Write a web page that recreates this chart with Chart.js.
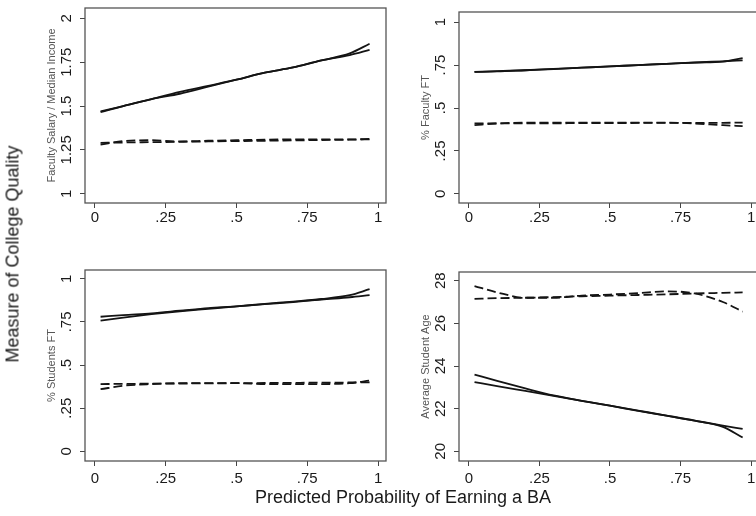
<!DOCTYPE html>
<html>
<head>
<meta charset="utf-8">
<script src="https://cdn.jsdelivr.net/npm/chart.js@4/dist/chart.umd.min.js"></script>
<style>
  html, body { margin: 0; padding: 0; background: #fff; overflow: hidden; }
  body { width: 756px; height: 516px; position: relative; font-family: "Liberation Sans", Arial, sans-serif; }
  canvas { position: absolute; }
  .ytitle { position: absolute; left: 13px; top: 254px; transform: translate(-50%, -50%) rotate(-90deg);
            white-space: nowrap; font-size: 18px; color: #1a1a1a; }
  .xtitle { position: absolute; left: 403px; top: 497px; transform: translate(-50%, -50%);
            white-space: nowrap; font-size: 18px; color: #1a1a1a; }
</style>
</head>
<body>
<canvas id="p1" width="400" height="245" style="left:0;top:0"></canvas>
<canvas id="p2" width="400" height="245" style="left:374px;top:0"></canvas>
<canvas id="p3" width="400" height="245" style="left:0;top:258px"></canvas>
<canvas id="p4" width="400" height="245" style="left:374px;top:258px"></canvas>
<div class="ytitle">Measure of College Quality</div>
<div class="xtitle">Predicted Probability of Earning a BA</div>
<script>
// predicted probability grid (x) shared by every panel
const xGrid = [0.02, 0.1, 0.2, 0.3, 0.4, 0.5, 0.6, 0.7, 0.8, 0.9, 0.97];
const xTicks = [0, 0.25, 0.5, 0.75, 1];
const xTickLabels = ['0', '.25', '.5', '.75', '1'];

// Faculty Salary / Median Income
const salarySolidLin = [1.47, 1.50, 1.54, 1.57, 1.61, 1.65, 1.69, 1.72, 1.76, 1.79, 1.82];
const salarySolidFit = [1.465, 1.50, 1.54, 1.58, 1.615, 1.65, 1.69, 1.72, 1.76, 1.80, 1.855];
const salaryDashLin = [1.29, 1.292, 1.294, 1.296, 1.298, 1.30, 1.302, 1.304, 1.306, 1.308, 1.31];
const salaryDashFit = [1.28, 1.30, 1.305, 1.298, 1.302, 1.305, 1.308, 1.31, 1.31, 1.31, 1.312];
const salaryTicks = [1, 1.25, 1.5, 1.75, 2];
const salaryTickLabels = ['1', '1.25', '1.5', '1.75', '2'];

// % Faculty FT
const facSolidLin = [0.71, 0.715, 0.72, 0.728, 0.735, 0.742, 0.75, 0.757, 0.765, 0.772, 0.777];
const facSolidFit = [0.71, 0.713, 0.72, 0.727, 0.735, 0.742, 0.75, 0.757, 0.764, 0.77, 0.79];
const facDashLin = [0.41, 0.41, 0.411, 0.411, 0.412, 0.412, 0.413, 0.413, 0.414, 0.414, 0.415];
const facDashFit = [0.40, 0.41, 0.415, 0.415, 0.415, 0.415, 0.415, 0.415, 0.41, 0.40, 0.395];

// % Students FT
const stuSolidLin = [0.78, 0.79, 0.80, 0.815, 0.83, 0.84, 0.853, 0.865, 0.88, 0.893, 0.905];
const stuSolidFit = [0.757, 0.775, 0.795, 0.812, 0.826, 0.84, 0.855, 0.868, 0.883, 0.905, 0.94];
const stuDashLin = [0.39, 0.391, 0.392, 0.393, 0.394, 0.395, 0.396, 0.397, 0.398, 0.399, 0.40];
const stuDashFit = [0.36, 0.38, 0.39, 0.395, 0.395, 0.395, 0.39, 0.39, 0.39, 0.395, 0.41];
const shareTicks = [0, 0.25, 0.5, 0.75, 1];
const shareTickLabels = ['0', '.25', '.5', '.75', '1'];

// Average Student Age
const ageSolidLin = [23.25, 23.06, 22.83, 22.6, 22.37, 22.14, 21.9, 21.67, 21.44, 21.21, 21.05];
const ageSolidFit = [23.6, 23.3, 22.95, 22.62, 22.37, 22.14, 21.91, 21.68, 21.44, 21.15, 20.65];
const ageDashLin = [27.15, 27.18, 27.2, 27.23, 27.27, 27.3, 27.33, 27.36, 27.4, 27.43, 27.45];
const ageDashFit = [27.75, 27.45, 27.2, 27.2, 27.3, 27.35, 27.42, 27.5, 27.4, 27.0, 26.55];
const ageTicks = [20, 22, 24, 26, 28];
const ageTickLabels = ['20', '22', '24', '26', '28'];

const ink = '#141414';

function series(values, dashed) {
    return {
        data: xGrid.map((x, i) => ({ x: x, y: values[i] })),
        borderColor: ink,
        borderWidth: 1.8,
        borderDash: dashed ? [9, 4] : [],
        pointRadius: 0,
        cubicInterpolationMode: 'monotone',
        fill: false
    };
}

// box around the plot region
const framePlugin = {
    id: 'frame',
    afterDraw(chart) {
        const a = chart.chartArea;
        const c = chart.ctx;
        c.save();
        c.strokeStyle = '#555';
        c.lineWidth = 1.3;
        c.strokeRect(a.left, a.top, a.right - a.left, a.bottom - a.top);
        c.restore();
    }
};

function makePanel(id, lines, title, yMin, yMax, yTicks, yLabels, rightPad, yPad, xPad) {
    new Chart(document.getElementById(id), {
        type: 'line',
        data: { datasets: lines },
        options: {
            responsive: false,
            animation: false,
            layout: { padding: { top: 5, right: rightPad, left: 0, bottom: 0 } },
            plugins: { legend: { display: false }, tooltip: { enabled: false } },
            scales: {
                x: {
                    type: 'linear',
                    min: -0.035,
                    max: 1.028,
                    afterBuildTicks: s => { s.ticks = xTicks.map(v => ({ value: v })); },
                    afterFit: s => { s.height = 42; },
                    grid: { drawOnChartArea: false, tickLength: 5, color: '#444' },
                    border: { display: false },
                    ticks: {
                        padding: xPad,
                        color: '#1a1a1a',
                        font: { family: 'Liberation Sans', size: 15 },
                        callback: (v) => xTickLabels[xTicks.indexOf(v)]
                    }
                },
                y: {
                    type: 'linear',
                    min: yMin,
                    max: yMax,
                    afterBuildTicks: s => { s.ticks = yTicks.map(v => ({ value: v })); },
                    afterFit: s => { s.width = 85; },
                    grid: { drawOnChartArea: false, tickLength: 5, color: '#444' },
                    border: { display: false },
                    title: {
                        display: true,
                        text: title,
                        color: '#555',
                        font: { family: 'Liberation Sans', size: 11 },
                        padding: { top: 45, bottom: 0 }
                    },
                    ticks: {
                        minRotation: 90,
                        maxRotation: 90,
                        crossAlign: 'center',
                        padding: yPad,
                        color: '#1a1a1a',
                        font: { family: 'Liberation Sans', size: 15 },
                        callback: (v) => yLabels[yTicks.indexOf(v)]
                    }
                }
            }
        },
        plugins: [framePlugin]
    });
}

makePanel('p1', [series(salarySolidLin), series(salarySolidFit), series(salaryDashLin, true), series(salaryDashFit, true)],
    'Faculty Salary / Median Income', 0.947, 2.059, salaryTicks, salaryTickLabels, 14, -1, 1);
makePanel('p2', [series(facSolidLin), series(facSolidFit), series(facDashLin, true), series(facDashFit, true)],
    '% Faculty FT', -0.053, 1.059, shareTicks, shareTickLabels, 15, 3, 1);
makePanel('p3', [series(stuSolidLin), series(stuSolidFit), series(stuDashLin, true), series(stuDashFit, true)],
    '% Students FT', -0.056, 1.051, shareTicks, shareTickLabels, 14, 3, 4);
makePanel('p4', [series(ageSolidLin), series(ageSolidFit), series(ageDashLin, true), series(ageDashFit, true)],
    'Average Student Age', 19.548, 28.407, ageTicks, ageTickLabels, 15, 5, 4);
</script>
</body>
</html>
